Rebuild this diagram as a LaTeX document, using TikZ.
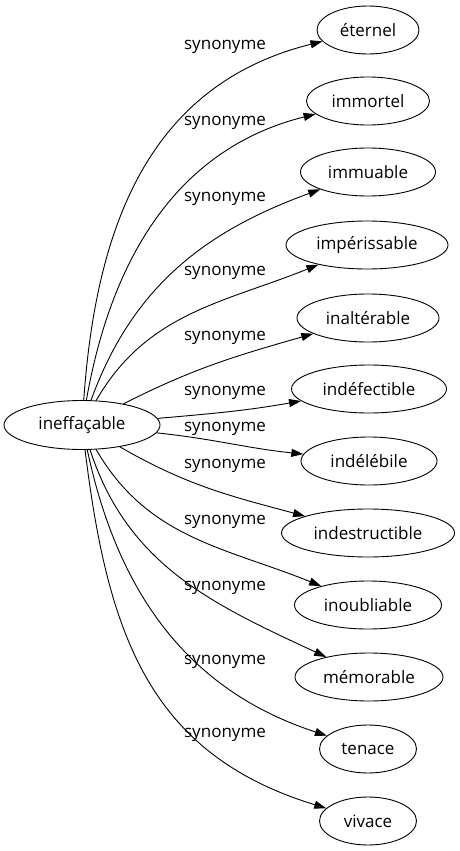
\documentclass[tikz,border=0pt]{standalone}
\usepackage{fontspec}
\setmainfont{Open Sans}
\usetikzlibrary{shapes.geometric,arrows.meta}
\begin{document}
\begin{tikzpicture}[x=1pt,y=-1pt,
    palavra/.style={draw, ellipse, inner sep=0pt, minimum height=48pt, line width=0.9pt, font=\fontsize{17}{20}\selectfont},
    rotulo/.style={inner sep=0pt, font=\fontsize{17}{20}\selectfont},
    seta/.style={-{Triangle[length=12pt,width=8pt]}, line width=0.9pt}]
  \useasboundingbox (0,0) rectangle (459,851);

  % Palavra central
  \node[palavra, minimum width=156pt, minimum height=49pt] (ineffacable) at (82,425) {ineffaçable};

  % Sinônimos
  \node[palavra, minimum width=102pt] (eternel) at (368,30) {éternel};
  \node[palavra, minimum width=123pt] (immortel) at (368,101) {immortel};
  \node[palavra, minimum width=135pt] (immuable) at (368,172) {immuable};
  \node[palavra, minimum width=162pt] (imperissable) at (367,245) {impérissable};
  \node[palavra, minimum width=142pt] (inalterable) at (368,318) {inaltérable};
  \node[palavra, minimum width=155pt] (indefectible) at (369,389) {indéfectible};
  \node[palavra, minimum width=136pt] (indelebile) at (369,461) {indélébile};
  \node[palavra, minimum width=173pt] (indestructible) at (368,533) {indestructible};
  \node[palavra, minimum width=147pt] (inoubliable) at (368,605) {inoubliable};
  \node[palavra, minimum width=148pt] (memorable) at (369,677) {mémorable};
  \node[palavra, minimum width=97pt] (tenace) at (368,749) {tenace};
  \node[palavra, minimum width=97pt] (vivace) at (368,821) {vivace};

  % Ligações
  \draw[seta] (ineffacable) to[out=86,in=194,looseness=1.05] (eternel);
  \draw[seta] (ineffacable) to[out=80,in=194] (immortel);
  \draw[seta] (ineffacable) to[out=70,in=200] (immuable);
  \draw[seta] (ineffacable) to[out=60,in=202] (imperissable);
  \draw[seta] (ineffacable) to[out=27,in=196] (inalterable);
  \draw[seta] (ineffacable) to[out=5,in=190] (indefectible);
  \draw[seta] (ineffacable) to[out=-6,in=174] (indelebile);
  \draw[seta] (ineffacable) to[out=-30,in=165] (indestructible);
  \draw[seta] (ineffacable) to[out=-60,in=158] (inoubliable);
  \draw[seta] (ineffacable) to[out=-72,in=155] (memorable);
  \draw[seta] (ineffacable) to[out=-78,in=162] (tenace);
  \draw[seta] (ineffacable) to[out=-83,in=163,looseness=1.1] (vivace);

  % Rótulos
  \node[rotulo] (r1) at (225,47) {synonyme};
  \node[rotulo] (r2) at (225,123) {synonyme};
  \node[rotulo] (r3) at (225,199) {synonyme};
  \node[rotulo] (r4) at (225,273) {synonyme};
  \node[rotulo] (r5) at (225,338) {synonyme};
  \node[rotulo] (r6) at (225,393) {synonyme};
  \node[rotulo] (r7) at (225,429) {synonyme};
  \node[rotulo] (r8) at (225,466) {synonyme};
  \node[rotulo] (r9) at (225,522) {synonyme};
  \node[rotulo] (r10) at (225,588) {synonyme};
  \node[rotulo] (r11) at (225,662) {synonyme};
  \node[rotulo] (r12) at (225,735) {synonyme};
\end{tikzpicture}
\end{document}
